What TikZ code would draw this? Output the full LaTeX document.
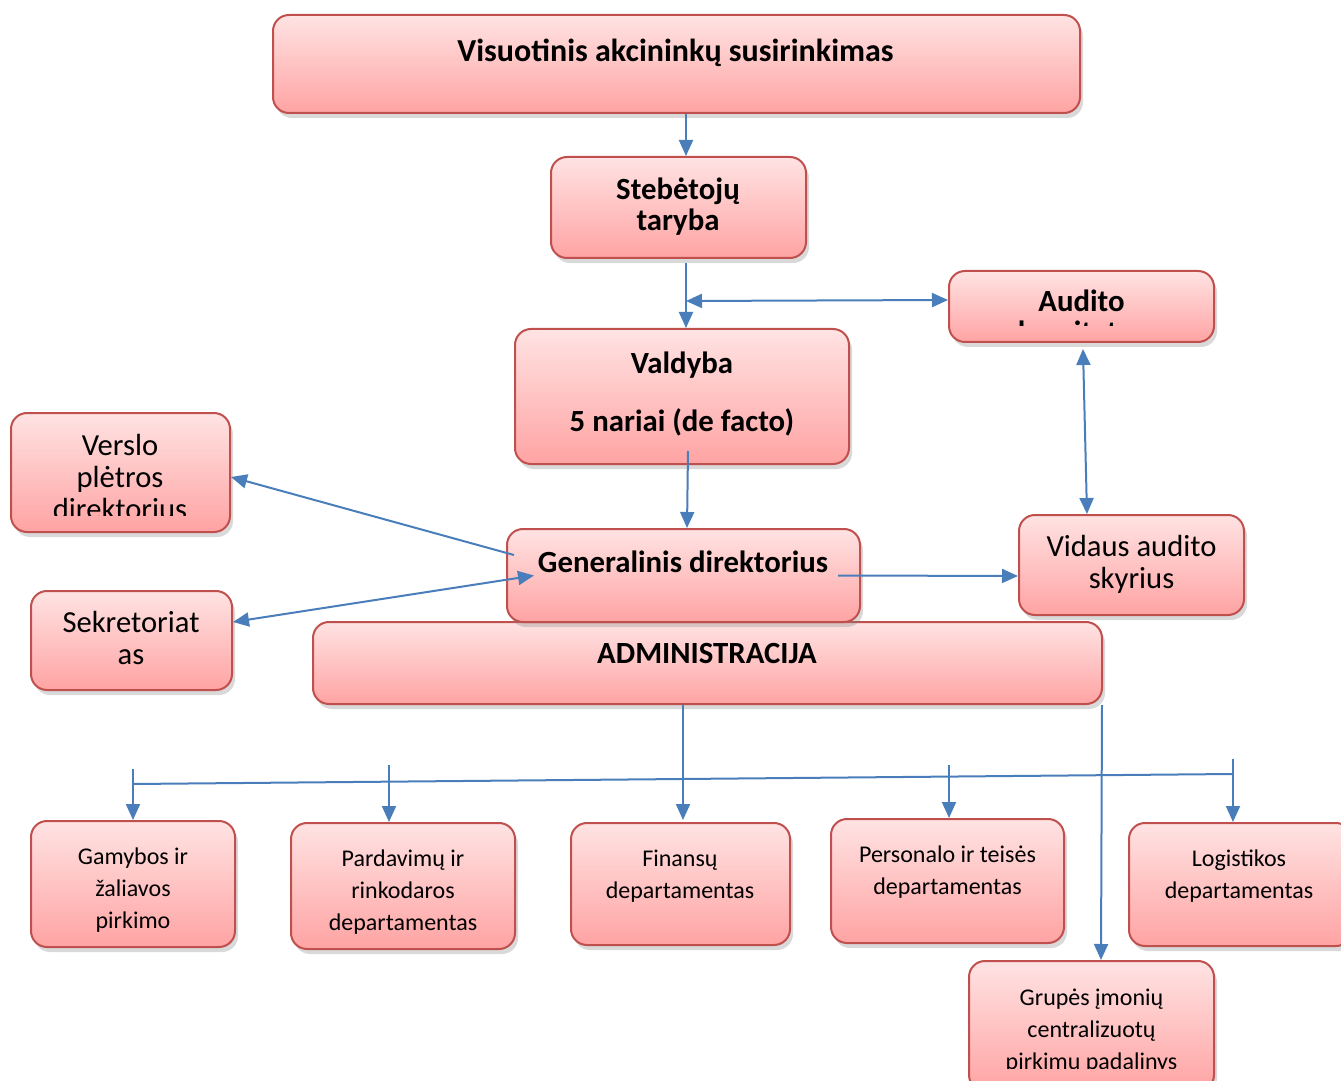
\documentclass[tikz,border=0pt]{standalone}
\usepackage{fontspec}
\setmainfont{Carlito}
\usetikzlibrary{arrows.meta,shadows}
\definecolor{boxred}{RGB}{192,80,77}
\definecolor{linkblue}{RGB}{74,126,187}
\tikzset{
    org-box/.style = {draw=boxred, line width=1pt, rectangle, rounded corners=8pt, top color=red!11, bottom color=red!36, drop shadow={shadow xshift=1.5pt, shadow yshift=-2.5pt, opacity=0.3}},
    org-title/.style = {align=center, inner sep=0pt, font=\bfseries\fontsize{15.4}{15.5}\selectfont, execute at begin node=\strut, execute at end node=\strut},
    org-text/.style = {align=center, inner sep=0pt, font=\fontsize{15.3}{16}\selectfont, execute at begin node=\strut, execute at end node=\strut},
    org-small/.style = {align=center, inner sep=0pt, font=\fontsize{12}{16}\selectfont, execute at begin node=\strut, execute at end node=\strut},
    blue-line/.style = {draw=linkblue, line width=1pt},
    blue-arrow/.style = {blue-line, -{Triangle[length=8pt,width=7pt]}},
    blue-twoway/.style = {blue-line, {Triangle[length=8pt,width=7pt]}-{Triangle[length=8pt,width=7pt]}},
}

\begin{document}
\begin{tikzpicture}[x=0.5pt, y=-0.5pt]
\useasboundingbox (0,0) rectangle (1341,1081);

% boxes
\node[org-box, minimum width=403.5pt, minimum height=49pt] (assembly) at (676.5,64) {};
\node[org-title, font=\bfseries\fontsize{16}{15.5}\selectfont] (assembly-t) at (675.5,55.3) {Visuotinis akcininkų susirinkimas};

\node[org-box, minimum width=127.5pt, minimum height=50.5pt] (supervisory) at (678.5,207.5) {};
\node[org-title] (supervisory-t) at (678,208.8) {Stebėtojų\\taryba};

\node[org-box, minimum width=132.5pt, minimum height=35.5pt] (audit-committee) at (1081.5,306.5) {};
\begin{scope}
\clip (949,271) rectangle (1214,326);
\node[org-title] (audit-committee-t) at (1081.5,321.3) {Audito\\komitetas};
\end{scope}

\node[org-box, minimum width=167pt, minimum height=67.5pt] (management) at (682,396.5) {};
\node[org-title] (management-t) at (682,396.3) {Valdyba\\[13.5pt]5 nariai (de facto)};

\node[org-box, minimum width=109.5pt, minimum height=59.5pt] (business-dev) at (120.5,472.5) {};
\begin{scope}
\clip (11,413) rectangle (230,515);
\node[org-text] (business-dev-t) at (120,482.1) {Verslo\\plėtros\\direktorius};
\end{scope}

\node[org-box, minimum width=112.5pt, minimum height=50pt] (internal-audit) at (1131.5,565) {};
\node[org-text] (internal-audit-t) at (1131.5,566.6) {Vidaus audito\\skyrius};

\node[org-box, minimum width=100.5pt, minimum height=49.5pt] (secretariat) at (131.5,640.5) {};
\node[org-text] (secretariat-t) at (131,642.8) {Sekretoriat\\as};

\node[org-box, minimum width=394.5pt, minimum height=41pt] (administration) at (707.5,663) {};
\node[org-title] (administration-t) at (707,656.8) {ADMINISTRACIJA};

\node[org-box, minimum width=176.5pt, minimum height=46.5pt] (ceo) at (683.5,575.5) {};
\node[org-title] (ceo-t) at (683,566.3) {Generalinis direktorius};

\node[org-box, minimum width=102pt, minimum height=63pt] (production) at (133,884) {};
\node[org-small] (production-t) at (133,893.3) {Gamybos ir\\žaliavos\\pirkimo};

\node[org-box, minimum width=112pt, minimum height=63pt] (sales) at (403,886) {};
\node[org-small] (sales-t) at (403,894.8) {Pardavimų ir\\rinkodaros\\departamentas};

\node[org-box, minimum width=109.5pt, minimum height=61pt] (finance) at (680.5,884) {};
\node[org-small] (finance-t) at (680,878.8) {Finansų\\departamentas};

\node[org-box, minimum width=116.5pt, minimum height=62pt] (personnel) at (947.5,881) {};
\node[org-small] (personnel-t) at (947.5,874.8) {Personalo ir teisės\\departamentas};

\node[org-box, minimum width=111.5pt, minimum height=61.5pt] (logistics) at (1240.5,884.5) {};
\node[org-small] (logistics-t) at (1239,878.8) {Logistikos\\departamentas};

\node[org-box, minimum width=122.5pt, minimum height=65pt] (procurement) at (1091.5,1026) {};
\begin{scope}
\clip (969,961) rectangle (1214,1068);
\node[org-small] (procurement-t) at (1091.5,1033.6) {Grupės įmonių\\centralizuotų\\pirkimų padalinys};
\end{scope}

% connectors
\draw[blue-arrow] ([xshift=4.75pt]assembly.south) -- ([xshift=3.75pt]supervisory.north);
\draw[blue-arrow] ([xshift=3.75pt,yshift=-2pt]supervisory.south) -- ([xshift=2pt]management.north);
\draw[blue-twoway] ([xshift=2pt,yshift=13.5pt]management.north) -- ([yshift=3.25pt]audit-committee.west);
\draw[blue-twoway] ([xshift=0.75pt,yshift=-3pt]audit-committee.south) -- ([xshift=-22.25pt]internal-audit.north);
\draw[blue-arrow] ([xshift=3pt,yshift=7pt]management.south) -- ([xshift=1.75pt]ceo.north);
\draw[blue-arrow] ([xshift=4pt,yshift=10.25pt]ceo.west) -- ([yshift=-2.25pt]business-dev.east);
\draw[blue-twoway] ([yshift=9.25pt]secretariat.east) -- ([xshift=14pt]ceo.west);
\draw[blue-arrow] ([xshift=-11.5pt]ceo.east) -- ([yshift=-5.5pt]internal-audit.west);
\draw[blue-arrow] ([xshift=-12.25pt]administration.south) -- ([xshift=1.25pt,yshift=1pt]finance.north);
\draw[blue-arrow] ([xshift=-0.5pt]administration.south east) -- ([xshift=4.75pt]procurement.north);

\coordinate (bus-left) at (133,784);
\coordinate (bus-right) at (1233,774);
\draw[blue-line] (bus-left) -- (bus-right);
\draw[blue-arrow] ([yshift=25.5pt]production.north) -- (production.north);
\draw[blue-arrow] ([xshift=-7pt,yshift=28.5pt]sales.north) -- ([xshift=-7pt]sales.north);
\draw[blue-arrow] ([xshift=0.75pt,yshift=26.5pt]personnel.north) -- ([xshift=0.75pt]personnel.north);
\draw[blue-arrow] ([xshift=-3.75pt,yshift=31.5pt]logistics.north) -- ([xshift=-3.75pt]logistics.north);
\end{tikzpicture}
\end{document}
